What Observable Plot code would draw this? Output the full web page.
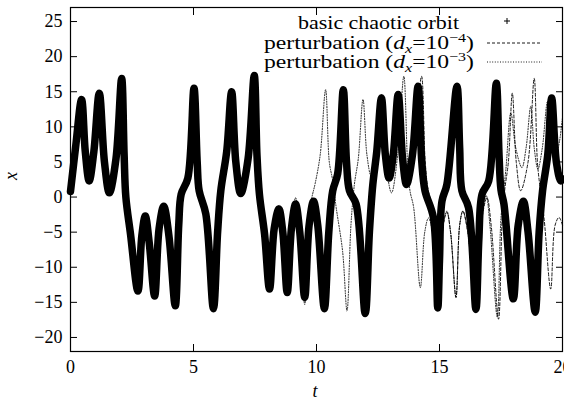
<!DOCTYPE html>
<html><head><meta charset="utf-8">
<script src="https://cdn.jsdelivr.net/npm/d3@7"></script>
<script src="https://cdn.jsdelivr.net/npm/@observablehq/plot@0.6"></script>
<style>
body{margin:0;background:#fff}
#chart{position:relative;width:564px;height:403px}
</style>
</head><body><div id="chart"></div>
<script>
// basic chaotic orbit (t, x)
const basicT = [0,0.22,0.45,0.6,0.76,0.95,1.17,1.38,1.58,1.85,2.08,2.18,2.25,2.44,2.74,2.9,3.04,3.2,3.42,3.6,3.79,4.0,4.26,4.4,4.5,4.77,5.02,5.15,5.23,5.5,5.81,5.98,6.11,6.35,6.55,6.72,6.92,7.22,7.47,7.58,7.68,7.89,8.09,8.28,8.47,8.63,8.81,8.98,9.15,9.32,9.52,9.7,9.88,10.05,10.32,10.5,10.66,10.86,11.09,11.22,11.34,11.61,11.98,12.15,12.29,12.45,12.64,12.8,12.95,13.12,13.32,13.5,13.66,13.9,14.13,14.28,14.41,14.75,14.93,15.0,15.1,15.3,15.71,15.82,15.91,16.18,16.48,16.6,16.73,17.0,17.31,17.42,17.5,17.62,18.0,18.2,18.41,18.6,18.89,19.05,19.19,19.4,19.56,19.75,19.93,20];
const basicX = [0.8,7.5,13.9,6.5,2.3,6.5,14.8,5,0.6,5.5,16.9,6,0,-5.3,-13.4,-5.5,-2.7,-6.5,-14.1,-4.5,-1.3,-5.5,-15.5,-4,0.4,2.7,15.5,5,0.9,-2.4,-15.9,-5,0.9,6.5,15.0,5,0.5,5.5,17.3,6,0.4,-5.3,-13.1,-4.5,-1.7,-5,-13.6,-4.5,-1.0,-5,-14.3,-4,-0.6,-4,-15.9,-5,0.9,3.3,15.3,5,0.9,-1.0,-16.6,-5,1.8,6.5,14.1,6,2.7,6,14.6,5.5,1.8,6,15.8,5,0.9,-2.9,-15.8,-9,-0.6,1.8,15.8,7,0.9,-1.5,-16.0,-6,0.4,2.3,16.2,6,1.0,-1.0,-14.5,-4,-0.6,-5,-16.4,-5,0.9,6,14.1,5,2.3,2.6];

// perturbation d_x = 1e-4 (dashed), from where it leaves the basic orbit
const pert4T = [13.32,13.5,13.66,13.95,14.27,14.42,14.55,14.8,15.02,15.15,15.3,15.45,15.67,15.82,15.95,16.15,16.5,16.65,16.93,17.1,17.4,17.55,17.65,17.8,17.96,18.12,18.3,18.6,18.85,18.98,19.1,19.25,19.52,19.7,19.86,20];
const pert4X = [14.6,5.5,1.8,6,17.2,5,0.8,-2.5,-15.2,-4,-2.2,-5,-14.3,-4,-2.0,-5,-16.2,-5,-0.1,-4,-17.4,-3,1,5,14.8,5,0.9,5,16.9,5,1,-3,-13.1,-4,-2.9,-4];

// perturbation d_x = 1e-3 (dotted)
const pert3T = [8.09,8.28,8.47,8.63,8.81,8.98,9.15,9.32,9.52,9.68,9.8,9.95,10.15,10.37,10.52,10.65,10.8,11.06,11.24,11.4,11.54,11.7,11.89,12.05,12.22,12.42,12.64,12.82,13.05,13.3,13.55,13.7,13.8,13.95,14.22,14.4,14.55,14.72,14.95,15.15,15.3,15.45,15.67,15.82,15.95,16.15,16.45,16.65,16.9,17.05,17.35,17.5,17.7,17.9,18.1,18.35,18.52,18.71,18.85,19.0,19.18,19.39,19.55,19.72,19.88,20];
const pert3X = [-13.1,-4.5,-1.2,-5,-13.8,-4.5,-0.1,-5,-15.3,-4,-0.3,2,6,15.3,5,2.5,-1.5,-7.7,-16.2,-4,1.8,5.5,13.9,6,3,6,14.6,5,0.6,6,17.2,5,0.9,-1.5,-12.9,-5,-3.0,-5,-14.8,-4,-2.0,-5,-14.3,-4,-2.0,-5,-15.8,-5,0.2,-4,-17.1,-3,4,12.0,7,4.2,7,12.9,7,4.0,7,13.6,8,5.5,8,11.3];

const xTicks = [0,5,10,15,20];
const yTicks = [-20,-15,-10,-5,0,5,10,15,20,25];
const legendNames = ["basic chaotic orbit", "perturbation (", "perturbation ("];
const legendExp = ["", "\u22124", "\u22123"];

const zip = (T, X) => T.map((t, i) => ({t, x: X[i]}));
const basic = zip(basicT, basicX);
const pert4 = zip(pert4T, pert4X);
const pert3 = zip(pert3T, pert3X);
const fmt = d => d < 0 ? "\u2212" + Math.abs(d) : String(d);
const blank = () => "";

const plot = Plot.plot({
  width: 564, height: 403,
  marginLeft: 70, marginRight: 2, marginTop: 7, marginBottom: 52,
  style: {fontFamily: "'Liberation Serif', 'DejaVu Serif', serif", fontSize: "18px", color: "#000", background: "#fff", overflow: "visible"},
  x: {domain: [0, 20]},
  y: {domain: [-22, 27]},
  marks: [
    Plot.line(basic, {x: "t", y: "x", stroke: "#000", strokeWidth: 7.5, curve: "catmull-rom"}),
    Plot.line(pert4, {x: "t", y: "x", stroke: "#000", strokeWidth: 0.9, strokeDasharray: "3,2", curve: "catmull-rom"}),
    Plot.line(pert3, {x: "t", y: "x", stroke: "#000", strokeWidth: 0.9, strokeDasharray: "1,1.6", curve: "catmull-rom"}),
    Plot.axisX({ticks: xTicks, anchor: "bottom", tickSize: 0, tickPadding: 9, tickFormat: fmt, label: null, fontSize: 18}),
    Plot.axisX({ticks: xTicks, anchor: "bottom", tickSize: -7, tickFormat: blank, label: null}),
    Plot.axisX({ticks: xTicks, anchor: "top", tickSize: -7, tickFormat: blank, label: null}),
    Plot.axisY({ticks: yTicks, anchor: "left", tickSize: 0, tickPadding: 8, tickFormat: fmt, label: null, fontSize: 18}),
    Plot.axisY({ticks: yTicks, anchor: "left", tickSize: -7, tickFormat: blank, label: null}),
    Plot.axisY({ticks: yTicks, anchor: "right", tickSize: -7, tickFormat: blank, label: null}),
    Plot.frame({stroke: "#000", strokeWidth: 1.2})
  ]
});
document.getElementById("chart").appendChild(plot);

const svg = d3.select(plot);
const g = svg.append("g").attr("font-family", "'Liberation Serif', 'DejaVu Serif', serif").attr("fill", "#000");
// axis titles
g.append("text").attr("transform", "translate(17,176) rotate(-90)").attr("text-anchor", "middle")
  .attr("font-style", "italic").attr("font-size", 18).text("x");
g.append("text").attr("x", 315).attr("y", 397).attr("text-anchor", "middle")
  .attr("font-style", "italic").attr("font-size", 18).text("t");

// legend
const lg = g.append("g").attr("font-size", 18.5);
const rows = [{y: 29, right: 459, w: 161}, {y: 49, right: 474, w: 210}, {y: 68, right: 474, w: 210}];
rows.forEach((r, i) => {
  const t = lg.append("text").attr("x", r.right).attr("y", r.y).attr("text-anchor", "end")
    .attr("textLength", r.w).attr("lengthAdjust", "spacingAndGlyphs");
  if (i === 0) { t.text(legendNames[0]); return; }
  t.append("tspan").text(legendNames[i]);
  t.append("tspan").attr("font-style", "italic").text("d");
  t.append("tspan").attr("font-style", "italic").attr("font-size", 12.5).attr("dy", 4).text("x");
  t.append("tspan").attr("dy", -4).text("=10");
  t.append("tspan").attr("font-size", 12.5).attr("dy", -7).text(legendExp[i]);
  t.append("tspan").attr("dy", 7).text(")");
});
lg.append("path").attr("d", "M504,21h6M507,18v6").attr("stroke", "#000").attr("stroke-width", 1);
lg.append("line").attr("x1", 487).attr("x2", 542).attr("y1", 43).attr("y2", 43)
  .attr("stroke", "#000").attr("stroke-width", 0.9).attr("stroke-dasharray", "3,2");
lg.append("line").attr("x1", 487).attr("x2", 542).attr("y1", 62).attr("y2", 62)
  .attr("stroke", "#000").attr("stroke-width", 0.9).attr("stroke-dasharray", "1,1.6");
</script>
</body></html>
